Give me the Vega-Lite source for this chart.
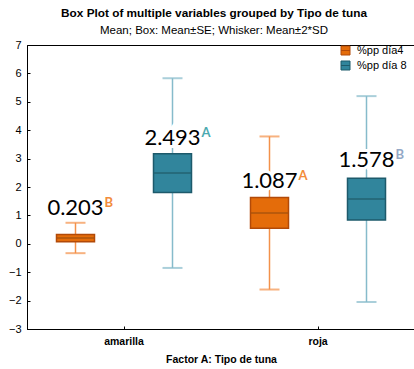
{
  "$schema": "https://vega.github.io/schema/vega-lite/v6.json",
  "autosize": {"type": "none"},
  "padding": {"top": 45, "left": 27, "right": 0, "bottom": 40},
  "width": 388,
  "height": 284,
  "background": "#ffffff",
  "title": {
    "text": "Box Plot of multiple variables grouped by  Tipo de tuna",
    "subtitle": "Mean; Box: Mean±SE; Whisker: Mean±2*SD",
    "anchor": "middle",
    "frame": "group",
    "dx": -7,
    "offset": 3,
    "font": "Liberation Sans",
    "fontSize": 11.8,
    "fontWeight": "bold",
    "color": "#000000",
    "subtitleFont": "Liberation Sans",
    "subtitleFontSize": 11.5,
    "subtitleColor": "#000000",
    "subtitlePadding": 5
  },
  "config": {
    "view": {"stroke": "#000000", "strokeWidth": 1},
    "axis": {"domainColor": "#000000", "tickColor": "#000000", "grid": false, "labelColor": "#000000", "titleColor": "#000000", "labelFont": "Liberation Sans", "titleFont": "Liberation Sans"},
    "axisY": {"labelOverlap": false, "tickCount": 10, "title": null, "labelFontSize": 11, "tickSize": -3, "labelPadding": 9}
  },
  "data": {
    "values": [
      {"tipo": "amarilla", "var": "%pp día4", "grp": "a4", "mean": 0.203, "se_lo": 0.07, "se_hi": 0.33, "lo": -0.33, "hi": 0.74, "letter": "B", "label_y": 1.01},
      {"tipo": "amarilla", "var": "%pp día 8", "grp": "a8", "mean": 2.493, "se_lo": 1.81, "se_hi": 3.17, "lo": -0.85, "hi": 5.83, "letter": "A", "label_y": 3.48},
      {"tipo": "roja", "var": "%pp día4", "grp": "r4", "mean": 1.087, "se_lo": 0.547, "se_hi": 1.627, "lo": -1.61, "hi": 3.78, "letter": "A", "label_y": 1.96},
      {"tipo": "roja", "var": "%pp día 8", "grp": "r8", "mean": 1.578, "se_lo": 0.84, "se_hi": 2.31, "lo": -2.05, "hi": 5.2, "letter": "B", "label_y": 2.71}
    ]
  },
  "encoding": {
    "x": {
      "field": "tipo", "type": "nominal",
      "scale": {"paddingInner": 0, "paddingOuter": 0},
      "axis": {"title": "Factor A: Tipo de tuna", "labelAngle": 0, "labelFontWeight": "bold", "labelFontSize": 10.5, "titleFontWeight": "bold", "titleFontSize": 10.5, "tickSize": -3, "labelPadding": 10, "titlePadding": 8}
    },
    "xOffset": {
      "field": "var", "type": "nominal", "sort": ["%pp día4", "%pp día 8"],
      "scale": {"paddingInner": 0, "paddingOuter": 0}
    }
  },
  "layer": [
    {
      "mark": {"type": "rule", "strokeWidth": 1.5},
      "encoding": {
        "y": {"field": "lo", "type": "quantitative", "scale": {"domain": [-3, 7], "nice": false}, "axis": {"tickCount": 10, "labelOverlap": false}},
        "y2": {"field": "hi"},
        "color": {"field": "var", "type": "nominal", "scale": {"domain": ["%pp día4", "%pp día 8"], "range": ["#F3914A", "#86BBCB"]}, "legend": null}
      }
    },
    {
      "mark": {"type": "tick", "thickness": 2, "size": 20, "orient": "horizontal"},
      "encoding": {
        "y": {"field": "lo", "type": "quantitative"},
        "color": {"field": "var", "type": "nominal", "scale": {"domain": ["%pp día4", "%pp día 8"], "range": ["#F3914A", "#86BBCB"]}, "legend": null}
      }
    },
    {
      "mark": {"type": "tick", "thickness": 2, "size": 20, "orient": "horizontal"},
      "encoding": {
        "y": {"field": "hi", "type": "quantitative"},
        "color": {"field": "var", "type": "nominal", "scale": {"domain": ["%pp día4", "%pp día 8"], "range": ["#F3914A", "#86BBCB"]}, "legend": null}
      }
    },
    {
      "mark": {"type": "bar", "width": 38, "strokeWidth": 1.5},
      "encoding": {
        "y": {"field": "se_lo", "type": "quantitative"},
        "y2": {"field": "se_hi"},
        "fill": {"field": "var", "type": "nominal", "sort": ["%pp día4", "%pp día 8"],
          "scale": {"domain": ["%pp día4", "%pp día 8"], "range": ["#E46C0A", "#31859C"]},
          "legend": {"title": null, "orient": "none", "legendX": 313, "legendY": 0, "padding": 0, "symbolType": "M-1,-1H1V1H-1Z M-1,0H1", "symbolSize": 81, "symbolStrokeWidth": 1, "labelFont": "Liberation Sans", "labelFontSize": 11, "labelColor": "#000000", "labelOffset": 6, "rowPadding": 2}},
        "stroke": {"field": "var", "type": "nominal", "sort": ["%pp día4", "%pp día 8"],
          "scale": {"domain": ["%pp día4", "%pp día 8"], "range": ["#B24A08", "#1D5A6B"]},
          "legend": {"title": null, "orient": "none", "legendX": 313, "legendY": 0, "padding": 0, "symbolType": "M-1,-1H1V1H-1Z M-1,0H1", "symbolSize": 81, "symbolStrokeWidth": 1, "labelFont": "Liberation Sans", "labelFontSize": 11, "labelColor": "#000000", "labelOffset": 6, "rowPadding": 2}}
      }
    },
    {
      "mark": {"type": "tick", "thickness": 2, "size": 37, "orient": "horizontal"},
      "encoding": {
        "y": {"field": "mean", "type": "quantitative"},
        "color": {"field": "var", "type": "nominal", "scale": {"domain": ["%pp día4", "%pp día 8"], "range": ["#A8520C", "#22606F"]}, "legend": null}
      }
    },
    {
      "mark": {"type": "text", "font": "Lato", "fontSize": 22, "baseline": "alphabetic", "align": "center", "stroke": "#ffffff", "strokeWidth": 6, "fill": "#ffffff"},
      "encoding": {
        "y": {"field": "label_y", "type": "quantitative"},
        "text": {"field": "mean", "type": "quantitative", "format": ".3f"}
      }
    },
    {
      "mark": {"type": "text", "font": "Lato", "fontSize": 22, "baseline": "alphabetic", "align": "center", "fill": "#000000"},
      "encoding": {
        "y": {"field": "label_y", "type": "quantitative"},
        "text": {"field": "mean", "type": "quantitative", "format": ".3f"}
      }
    },
    {
      "mark": {"type": "text", "font": "Lato", "fontSize": 13, "fontWeight": "bold", "baseline": "alphabetic", "align": "left", "dx": 29, "dy": -8},
      "encoding": {
        "y": {"field": "label_y", "type": "quantitative"},
        "text": {"field": "letter", "type": "nominal"},
        "color": {"field": "grp", "type": "nominal", "scale": {"domain": ["a4", "a8", "r4", "r8"], "range": ["#F28C3C", "#4BAAB0", "#F28C3C", "#93A8C6"]}, "legend": null}
      }
    }
  ],
  "resolve": {"scale": {"color": "independent"}}
}
